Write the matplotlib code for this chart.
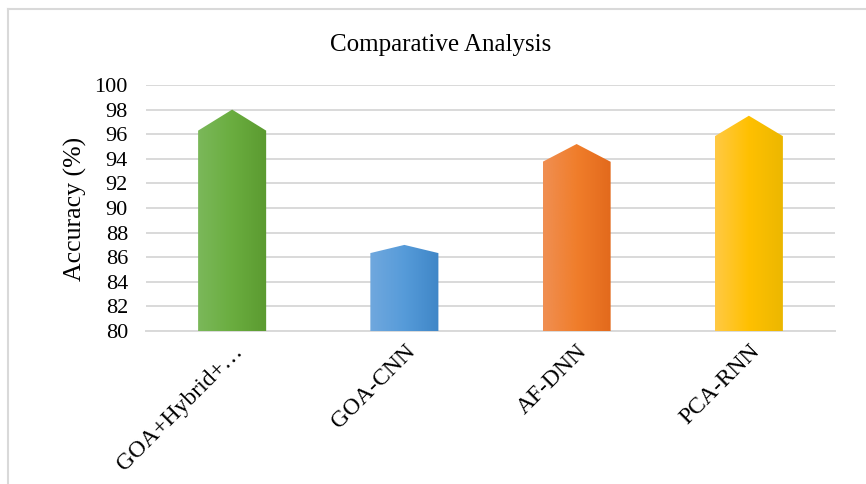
import numpy as np
import matplotlib.pyplot as plt
from matplotlib.colors import LinearSegmentedColormap
from matplotlib.patches import Polygon
from matplotlib.lines import Line2D

plt.rcParams['font.family'] = ['Liberation Serif', 'DejaVu Serif']

# data
models = ['GOA+Hybrid+…', 'GOA-CNN', 'AF-DNN', 'PCA-RNN']
accuracy = [98.0, 87.0, 95.2, 97.5]
yticks = list(range(80, 101, 2))

# gradient colours (left, middle, right) for each bar
shades = [
    ['#7bb85a', '#6aad3f', '#5b9a30'],
    ['#70a8de', '#569bd9', '#3f86c7'],
    ['#f08f52', '#f07d2a', '#e2691c'],
    ['#ffc944', '#ffc000', '#ebb700'],
]

fig = plt.figure(figsize=(8.66, 4.84), dpi=100)
ax = fig.add_axes([0.1686, 0.3161, 0.7956, 0.5083])

base = 80
width = 0.395
for i, (v, cols) in enumerate(zip(accuracy, shades)):
    tip = 0.095 * (v - base)
    x0, x1 = i - width / 2, i + width / 2
    poly = Polygon([(x0, base), (x0, v - tip), (i, v), (x1, v - tip), (x1, base)],
                   closed=True, facecolor='none', edgecolor='none', zorder=3)
    ax.add_patch(poly)
    cmap = LinearSegmentedColormap.from_list('g%d' % i, cols)
    grad = np.linspace(0, 1, 256).reshape(1, -1)
    im = ax.imshow(grad, cmap=cmap, aspect='auto', extent=(x0, x1, base, v),
                   zorder=3, interpolation='bicubic')
    im.set_clip_path(poly)

ax.set_xlim(-0.5, len(models) - 0.5)
ax.set_ylim(80, 100)
ax.set_yticks(yticks)
ax.set_xticks(range(len(models)))
ax.set_xticklabels(models, rotation=45, ha='right', rotation_mode='anchor', fontsize=17)
ax.tick_params(axis='y', length=0, pad=13, labelsize=16)
ax.tick_params(axis='x', length=0, pad=7)
ax.grid(axis='y', color='#d9d9d9', linewidth=1.4, zorder=0)
ax.set_axisbelow(True)
for s in ['top', 'right', 'left']:
    ax.spines[s].set_visible(False)
ax.spines['bottom'].set_color('#d9d9d9')
ax.spines['bottom'].set_linewidth(1.4)

fig.text(0.509, 0.907, 'Comparative Analysis', ha='center', va='center', fontsize=18)
fig.text(0.0866, 0.568, 'Accuracy (%)', ha='center', va='center', rotation=90, fontsize=18.5)

# outer frame (top and left edges only)
fig.add_artist(Line2D([8 / 866, 1], [1 - 9 / 484] * 2, color='#d9d9d9', lw=1.5))
fig.add_artist(Line2D([8 / 866] * 2, [0, 1 - 9 / 484], color='#d9d9d9', lw=1.5))

fig.savefig('out.png', dpi=100)
